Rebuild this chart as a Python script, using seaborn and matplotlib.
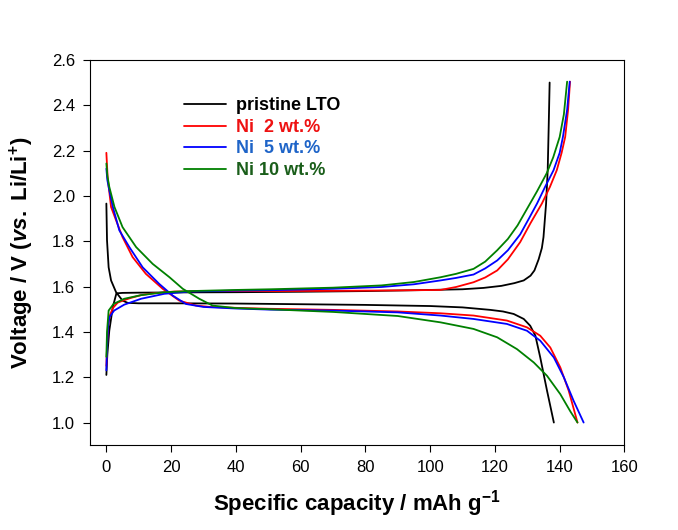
import numpy as np
import pandas as pd
import seaborn as sns
from matplotlib import pyplot as plt

# pristine LTO
cap_chg_pristine = [0, 0.3, 0.9, 2.0, 3.1, 5, 10, 20, 40, 60, 80, 100, 110, 116.5, 122, 126,
                    128.9, 131, 132.2, 133.5, 134.5, 135, 135.8, 136.3, 136.6, 136.9]
v_chg_pristine = [1.21, 1.30, 1.405, 1.51, 1.57, 1.572, 1.573, 1.574, 1.575, 1.577, 1.58, 1.585,
                  1.588, 1.594, 1.603, 1.615, 1.627, 1.648, 1.671, 1.72, 1.77, 1.818, 1.966,
                  2.113, 2.30, 2.50]
cap_dis_pristine = [0, 0.2, 0.7, 1.45, 3.0, 5.0, 6.6, 10, 20, 40, 60, 80, 100, 110, 118.6,
                    122.5, 125.8, 128.9, 130.9, 132.5, 134, 136.1, 138.2]
v_dis_pristine = [1.966, 1.804, 1.685, 1.627, 1.575, 1.538, 1.528, 1.526, 1.526, 1.525, 1.522,
                  1.519, 1.514, 1.508, 1.497, 1.49, 1.479, 1.457, 1.427, 1.383, 1.287, 1.14, 1.0]

# Ni 2 wt.%
cap_chg_ni2 = [0, 0.2, 0.5, 1.0, 2.0, 3.5, 5.5, 7.6, 10.7, 13.8, 21, 30, 50, 70, 90, 103.2, 108,
               113.4, 117, 120.7, 124, 127.8, 131, 134.5, 137, 139.1, 140.6, 141.7, 142.6,
               143.2]
v_chg_ni2 = [1.25, 1.33, 1.42, 1.47, 1.505, 1.529, 1.54, 1.55, 1.562, 1.569, 1.578, 1.58, 1.58,
             1.581, 1.583, 1.585, 1.598, 1.619, 1.64, 1.671, 1.72, 1.796, 1.88, 1.966, 2.04,
             2.113, 2.19, 2.26, 2.38, 2.504]
cap_dis_ni2 = [0, 0.4, 1.45, 3.0, 5.0, 8.1, 12.2, 17.4, 22.5, 27.7, 32, 40, 50, 70, 90, 103.2,
               113.4, 123.7, 129.9, 134, 137.1, 140.2, 142.8, 145.5]
v_dis_ni2 = [2.19, 2.08, 1.951, 1.892, 1.818, 1.73, 1.656, 1.59, 1.538, 1.516, 1.51, 1.506,
             1.502, 1.497, 1.49, 1.482, 1.472, 1.45, 1.42, 1.383, 1.331, 1.243, 1.14, 1.0]

# Ni 5 wt.%
cap_chg_ni5 = [0, 0.2, 0.5, 0.9, 2.4, 5.5, 10.7, 17.9, 26, 40, 50.8, 70, 85, 95, 103.2, 108,
               113.4, 117, 120.7, 124, 127.8, 130.5, 133, 135.5, 138.1, 140, 141, 142.3, 143.1]
v_chg_ni5 = [1.23, 1.33, 1.42, 1.464, 1.494, 1.52, 1.546, 1.568, 1.578, 1.582, 1.584, 1.59,
             1.598, 1.61, 1.627, 1.638, 1.653, 1.68, 1.715, 1.76, 1.83, 1.90, 1.966, 2.04,
             2.113, 2.19, 2.26, 2.38, 2.504]
cap_dis_ni5 = [0, 0.3, 0.9, 2.0, 4.0, 7.1, 11.2, 16.3, 20.5, 24.6, 30, 40, 50.8, 70, 90, 103.2,
               113.4, 123.7, 129.9, 134, 138.2, 141.3, 144.3, 147.4]
v_dis_ni5 = [2.12, 2.07, 2.025, 1.951, 1.848, 1.774, 1.685, 1.612, 1.56, 1.523, 1.51, 1.503,
             1.498, 1.494, 1.486, 1.472, 1.457, 1.435, 1.405, 1.361, 1.287, 1.199, 1.096, 1.0]

# Ni 10 wt.%
cap_chg_ni10 = [0, 0.2, 0.7, 2.2, 5.5, 10.7, 17.9, 26, 40, 50.8, 70, 85, 95, 103.2, 108, 113.4,
                117, 120.7, 124, 127, 130, 133, 136, 138, 140, 141.3, 142.3]
v_chg_ni10 = [1.29, 1.40, 1.494, 1.523, 1.546, 1.562, 1.575, 1.58, 1.585, 1.588, 1.595, 1.605,
              1.62, 1.641, 1.656, 1.678, 1.71, 1.76, 1.81, 1.87, 1.945, 2.02, 2.10, 2.17,
              2.26, 2.36, 2.504]
cap_dis_ni10 = [0, 0.3, 0.9, 2.5, 5.0, 9.2, 14.3, 19.5, 23.6, 28.7, 32.8, 40, 50, 70, 90, 103.2,
                113.4, 120.7, 126.8, 132, 136.1, 140.2, 143.3, 145.5]
v_dis_ni10 = [2.143, 2.09, 2.04, 1.951, 1.862, 1.774, 1.70, 1.641, 1.59, 1.546, 1.516, 1.505,
              1.50, 1.488, 1.47, 1.442, 1.413, 1.376, 1.324, 1.265, 1.206, 1.125, 1.049, 1.0]

samples = ["pristine LTO", "Ni  2 wt.%", "Ni  5 wt.%", "Ni 10 wt.%"]
line_colors = ["#000000", "#ff0000", "#0000ff", "#008000"]
text_colors = ["#000000", "#ee1111", "#1e64c8", "#1a5e1a"]


def build_frame():
    """Stack all curves into one long table."""
    curves = [
        (samples[0], "charge", cap_chg_pristine, v_chg_pristine),
        (samples[0], "discharge", cap_dis_pristine, v_dis_pristine),
        (samples[1], "charge", cap_chg_ni2, v_chg_ni2),
        (samples[1], "discharge", cap_dis_ni2, v_dis_ni2),
        (samples[2], "charge", cap_chg_ni5, v_chg_ni5),
        (samples[2], "discharge", cap_dis_ni5, v_dis_ni5),
        (samples[3], "charge", cap_chg_ni10, v_chg_ni10),
        (samples[3], "discharge", cap_dis_ni10, v_dis_ni10),
    ]
    parts = []
    for name, branch, cap, volt in curves:
        parts.append(pd.DataFrame({"sample": name, "branch": branch,
                                   "capacity": cap, "voltage": volt}))
    return pd.concat(parts, ignore_index=True)


def main():
    sns.set_theme(style="ticks")
    plt.rcParams["font.family"] = ["Liberation Sans", "DejaVu Sans"]
    plt.rcParams["mathtext.fontset"] = "custom"
    plt.rcParams["mathtext.rm"] = "Liberation Sans:bold"
    plt.rcParams["mathtext.it"] = "Liberation Sans:bold:italic"
    plt.rcParams["mathtext.bf"] = "Liberation Sans:bold"

    df = build_frame()
    fig = plt.figure(figsize=(6.78, 5.30), dpi=100)
    ax = fig.add_axes([0.133, 0.160, 0.788, 0.727])

    sns.lineplot(data=df, x="capacity", y="voltage", hue="sample", units="branch",
                 estimator=None, sort=False, palette=dict(zip(samples, line_colors)),
                 hue_order=samples, linewidth=1.3, ax=ax)

    ax.set_xlim(-5, 160)
    ax.set_ylim(0.9, 2.6)
    ax.set_xticks(np.arange(0, 161, 20))
    ax.set_yticks(np.arange(1.0, 2.61, 0.2))
    ax.set_yticklabels([f"{t:.1f}" for t in np.arange(1.0, 2.61, 0.2)])
    ax.tick_params(axis="both", direction="out", length=5, width=0.8, labelsize=12,
                   pad=6, colors="black")
    for s in ax.spines.values():
        s.set_linewidth(0.8)
        s.set_color("black")

    ax.set_xlabel("Specific capacity / mAh g$^{-1}$", fontsize=16, fontweight="bold",
                  labelpad=9, color="black")
    ax.set_ylabel(r"Voltage / V ($\mathit{vs.}$ Li/Li$^{+}$)", fontsize=16,
                  fontweight="bold", labelpad=11, color="black")

    handles, labels = ax.get_legend_handles_labels()
    leg = ax.legend(handles, labels, loc="upper left", bbox_to_anchor=(0.146, 0.945),
                    frameon=False, handlelength=2.3, handletextpad=0.55,
                    labelspacing=0.25, prop={"weight": "bold", "size": 13})
    for txt, c in zip(leg.get_texts(), text_colors):
        txt.set_color(c)

    plt.savefig("out.png", dpi=100)
    plt.close()


if __name__ == "__main__":
    main()
